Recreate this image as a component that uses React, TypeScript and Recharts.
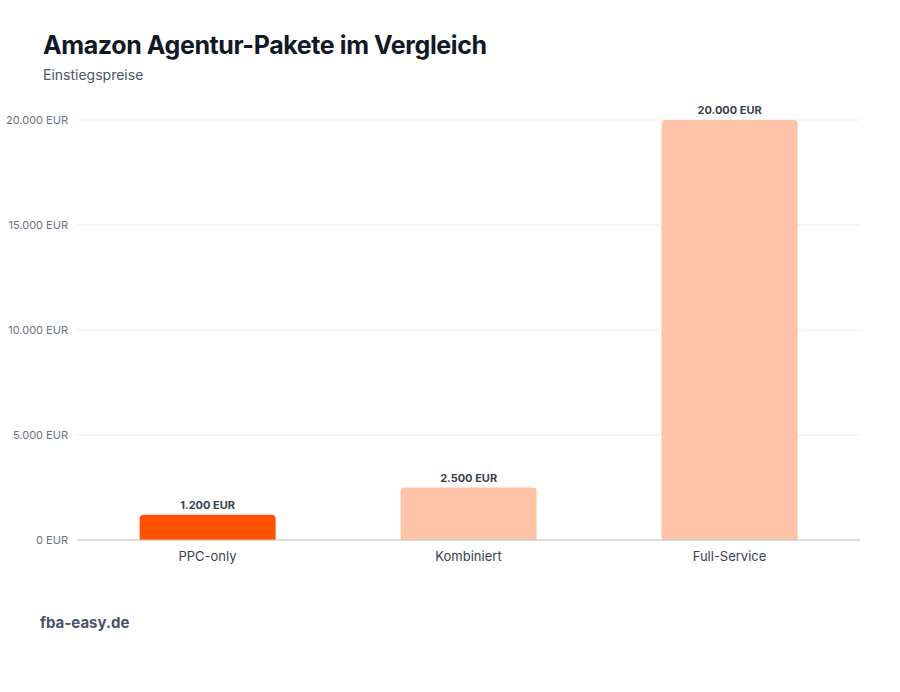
import { Bar, BarChart, CartesianGrid, Cell, LabelList, XAxis, YAxis } from 'recharts'

const categories = ['PPC-only', 'Kombiniert', 'Full-Service']
const prices = [1200, 2500, 20000]
const barColors = ['#FF5100', '#FFC4A8', '#FFC4A8']
const yTicks = [0, 5000, 10000, 15000, 20000]

const data = categories.map((name, i) => ({ name, price: prices[i] }))

const FONT = 'Inter, "DejaVu Sans", sans-serif'

function formatEur(v: number) {
  return `${v.toLocaleString('de-DE')} EUR`
}

// plain tick so the label never wraps
function YTick({ x, y, payload }: any) {
  return (
    <text x={x - 1} y={y} dy={4} textAnchor="end" fontSize={11} fill="#6b7280" fontFamily={FONT}>
      {formatEur(payload.value)}
    </text>
  )
}

export default function App() {
  return (
    <div
      style={{
        position: 'absolute',
        left: 0,
        top: 0,
        width: 900,
        height: 692,
        background: '#ffffff',
        fontFamily: FONT,
      }}
    >
      <div
        style={{
          position: 'absolute',
          left: 43,
          top: 30,
          fontSize: 25,
          fontWeight: 700,
          color: '#111827',
          letterSpacing: -0.4,
        }}
      >
        Amazon Agentur-Pakete im Vergleich
      </div>
      <div style={{ position: 'absolute', left: 43, top: 66, fontSize: 14, color: '#4b5563' }}>
        Einstiegspreise
      </div>

      <div style={{ position: 'absolute', left: 0, top: 0 }}>
        <BarChart
          width={900}
          height={600}
          data={data}
          margin={{ top: 120, right: 40, bottom: 30, left: 0 }}
          barCategoryGap="24%"
        >
          <CartesianGrid vertical={false} stroke="#eeeeee" />
          <XAxis
            dataKey="name"
            tickLine={false}
            axisLine={{ stroke: '#c4c4c4' }}
            tick={{ fontSize: 13, fill: '#374151', fontFamily: FONT }}
            height={30}
            tickMargin={6}
          />
          <YAxis
            domain={[0, 20000]}
            ticks={yTicks}
            tickLine={false}
            axisLine={false}
            width={77}
            tick={<YTick />}
          />
          <Bar dataKey="price" radius={[4, 4, 0, 0]} isAnimationActive={false}>
            {data.map((d, i) => (
              <Cell key={d.name} fill={barColors[i]} />
            ))}
            <LabelList
              dataKey="price"
              position="top"
              offset={6}
              formatter={(v: number) => formatEur(v)}
              style={{ fontSize: 11, fontWeight: 700, fill: '#374151', fontFamily: FONT }}
            />
          </Bar>
        </BarChart>
      </div>

      <div
        style={{
          position: 'absolute',
          left: 40,
          top: 613,
          fontSize: 15,
          fontWeight: 700,
          color: '#475569',
        }}
      >
        fba-easy.de
      </div>
    </div>
  )
}
